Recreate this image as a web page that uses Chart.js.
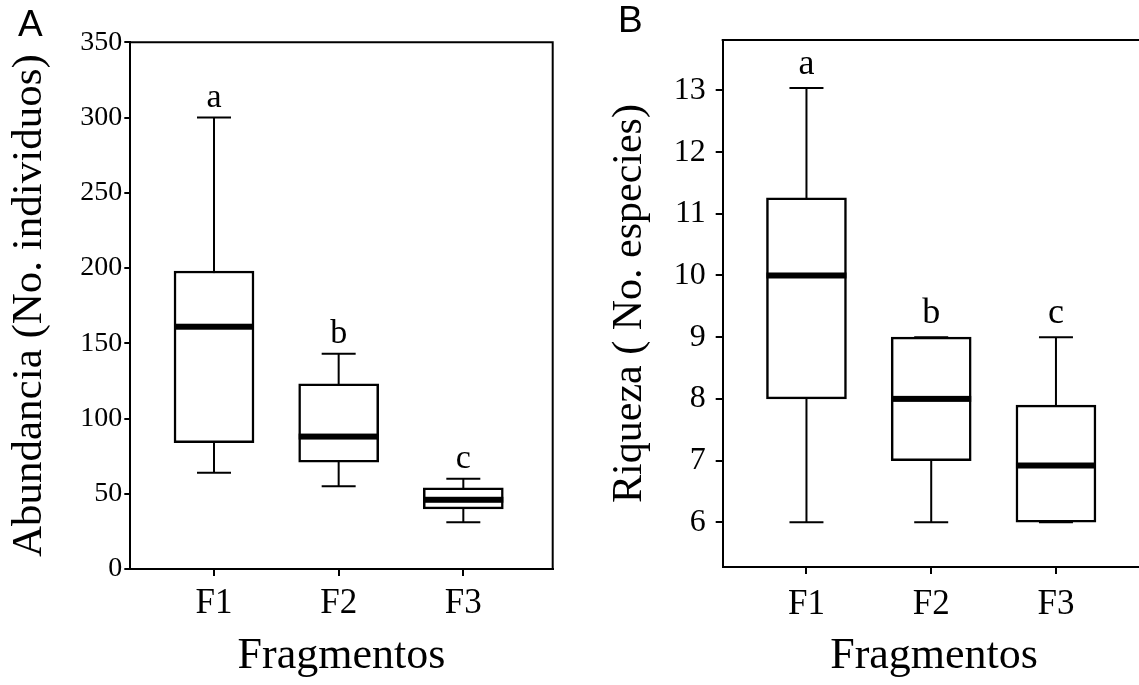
<!DOCTYPE html>
<html>
<head>
<meta charset="utf-8">
<script src="https://cdn.jsdelivr.net/npm/chart.js@4/dist/chart.umd.min.js"></script>
<style>
  html, body { margin: 0; padding: 0; background: #fff; overflow: hidden; width: 1139px; height: 685px; }
  #chartA { position: absolute; left: 0; top: 0; }
  #chartB { position: absolute; left: 570px; top: 0; }
  .panel { position: absolute; font-family: 'Liberation Sans', Arial, sans-serif; font-size: 37px; line-height: 1; color: #000; }
</style>
</head>
<body>
<canvas id="chartA" width="570" height="685"></canvas>
<canvas id="chartB" width="600" height="685"></canvas>
<div class="panel" style="left:18px; top:5px;">A</div>
<div class="panel" style="left:618px; top:1px;">B</div>
<script>
// categories
const fragmentos = ['F1', 'F2', 'F3'];

// Panel A - Abundancia (No. individuos)
const abMin = [64, 55, 31];
const abQ1 = [84, 71, 40];
const abMed = [161, 88, 46];
const abQ3 = [198, 123, 54];
const abMax = [300, 143, 60];
const abLetters = ['a', 'b', 'c'];
const abTicks = [0, 50, 100, 150, 200, 250, 300, 350];

// Panel B - Riqueza (No. especies)
const riMin = [6, 6, 6];
const riQ1 = [8, 7, 6];
const riMed = [10, 8, 6.92];
const riQ3 = [11.26, 9, 7.9];
const riMax = [13.04, 9, 9];
const riLetters = ['a', 'b', 'c'];
const riTicks = [6, 7, 8, 9, 10, 11, 12, 13];

const serif = "'Liberation Serif', 'Times New Roman', serif";

// whiskers, medians, letters and the frame, drawn through the chart scales
const boxExtras = {
  id: 'boxExtras',
  beforeDatasetsDraw(chart, args, o) {
    const { ctx, scales: { x, y } } = chart;
    ctx.save();
    ctx.strokeStyle = '#000';
    ctx.lineWidth = 2;
    o.min.forEach((mn, i) => {
      const px = x.getPixelForValue(i + 1);
      const yMin = y.getPixelForValue(mn);
      const yMax = y.getPixelForValue(o.max[i]);
      ctx.beginPath();
      ctx.moveTo(px, yMin);
      ctx.lineTo(px, yMax);
      ctx.moveTo(px - o.cap / 2, yMin);
      ctx.lineTo(px + o.cap / 2, yMin);
      ctx.moveTo(px - o.cap / 2, yMax);
      ctx.lineTo(px + o.cap / 2, yMax);
      ctx.stroke();
    });
    ctx.restore();
  },
  afterDatasetsDraw(chart, args, o) {
    const { ctx, scales: { x, y } } = chart;
    const bars = chart.getDatasetMeta(0).data;
    ctx.save();
    ctx.fillStyle = '#000';
    o.med.forEach((md, i) => {
      const px = x.getPixelForValue(i + 1);
      const w = bars[i].width;
      const py = y.getPixelForValue(md);
      ctx.fillRect(px - w / 2, py - 3, w, 6);
    });
    ctx.font = o.letterSize + 'px ' + serif;
    ctx.textAlign = 'center';
    ctx.textBaseline = 'alphabetic';
    o.letters.forEach((l, i) => {
      ctx.fillText(l, x.getPixelForValue(i + 1), y.getPixelForValue(o.max[i]) - o.letterGap);
    });
    // top and right sides of the frame
    const a = chart.chartArea;
    ctx.strokeStyle = '#000';
    ctx.lineWidth = 2;
    ctx.beginPath();
    ctx.moveTo(a.left - 1, a.top);
    ctx.lineTo(a.right, a.top);
    ctx.lineTo(a.right, a.bottom);
    ctx.stroke();
    ctx.restore();
  }
};

function makePanel(id, cfg) {
  const boxes = fragmentos.map((f, i) => ({ x: i + 1, y: [cfg.q1[i], cfg.q3[i]] }));
  return new Chart(document.getElementById(id), {
    type: 'bar',
    data: {
      datasets: [{
        data: boxes,
        backgroundColor: '#fff',
        borderColor: '#000',
        borderWidth: 2.5,
        borderSkipped: false,
        barThickness: 80
      }]
    },
    options: {
      responsive: false,
      animation: false,
      devicePixelRatio: 1,
      layout: { padding: { top: cfg.padTop, right: cfg.padRight, left: 0, bottom: 0 } },
      plugins: {
        legend: { display: false },
        tooltip: { enabled: false },
        boxExtras: {
          min: cfg.min, max: cfg.max, med: cfg.med, letters: cfg.letters,
          cap: 34, letterSize: cfg.letterSize, letterGap: cfg.letterGap
        }
      },
      scales: {
        x: {
          type: 'linear',
          offset: false,
          min: 0.3285,
          max: 3.717,
          afterBuildTicks: s => { s.ticks = fragmentos.map((f, i) => ({ value: i + 1 })); },
          afterFit: s => { s.height = cfg.xHeight; },
          ticks: {
            color: '#000',
            font: { family: serif, size: 35 },
            padding: cfg.xTickPad,
            maxRotation: 0,
            autoSkip: false,
            callback: v => fragmentos[Math.round(v) - 1]
          },
          grid: { offset: false, drawOnChartArea: false, drawTicks: true, tickLength: 7, color: '#000', lineWidth: 2 },
          border: { display: true, color: '#000', width: 2 },
          title: {
            display: true,
            text: 'Fragmentos',
            color: '#000',
            font: { family: serif, size: 44, lineHeight: 1 },
            padding: { top: 0, bottom: 7 }
          }
        },
        y: {
          min: cfg.yMin,
          max: cfg.yMax,
          afterBuildTicks: s => { s.ticks = cfg.ticks.map(v => ({ value: v })); },
          afterFit: s => { s.width = cfg.yWidth; },
          ticks: {
            color: '#000',
            font: { family: serif, size: cfg.yTickSize },
            padding: cfg.yTickPad
          },
          grid: { drawOnChartArea: false, drawTicks: true, tickLength: cfg.yTickLen, color: '#000', lineWidth: 2 },
          border: { display: true, color: '#000', width: 2 },
          title: {
            display: true,
            text: cfg.yTitle,
            color: '#000',
            font: { family: serif, size: cfg.yTitleSize, lineHeight: 1 },
            padding: { top: cfg.yTitlePad, bottom: 0 }
          }
        }
      }
    },
    plugins: [boxExtras]
  });
}

makePanel('chartA', {
  min: abMin, q1: abQ1, med: abMed, q3: abQ3, max: abMax, letters: abLetters, ticks: abTicks,
  yMin: 0, yMax: 350, yTitle: 'Abundancia (No. individuos)', yTitleSize: 43, yTitlePad: 8.5,
  yTickSize: 28, yTickPad: 2, yTickLen: 6, yWidth: 130.3, xHeight: 116, xTickPad: 6.5,
  padTop: 42.3, padRight: 17.3, letterSize: 34, letterGap: 11
});

makePanel('chartB', {
  min: riMin, q1: riQ1, med: riMed, q3: riQ3, max: riMax, letters: riLetters, ticks: riTicks,
  yMin: 5.275, yMax: 13.817, yTitle: 'Riqueza ( No. especies)', yTitleSize: 42, yTitlePad: 39,
  yTickSize: 32, yTickPad: 10, yTickLen: 7, yWidth: 152.7, xHeight: 118, xTickPad: 9.4,
  padTop: 40, padRight: 24.6, letterSize: 36, letterGap: 14
});
</script>
</body>
</html>
